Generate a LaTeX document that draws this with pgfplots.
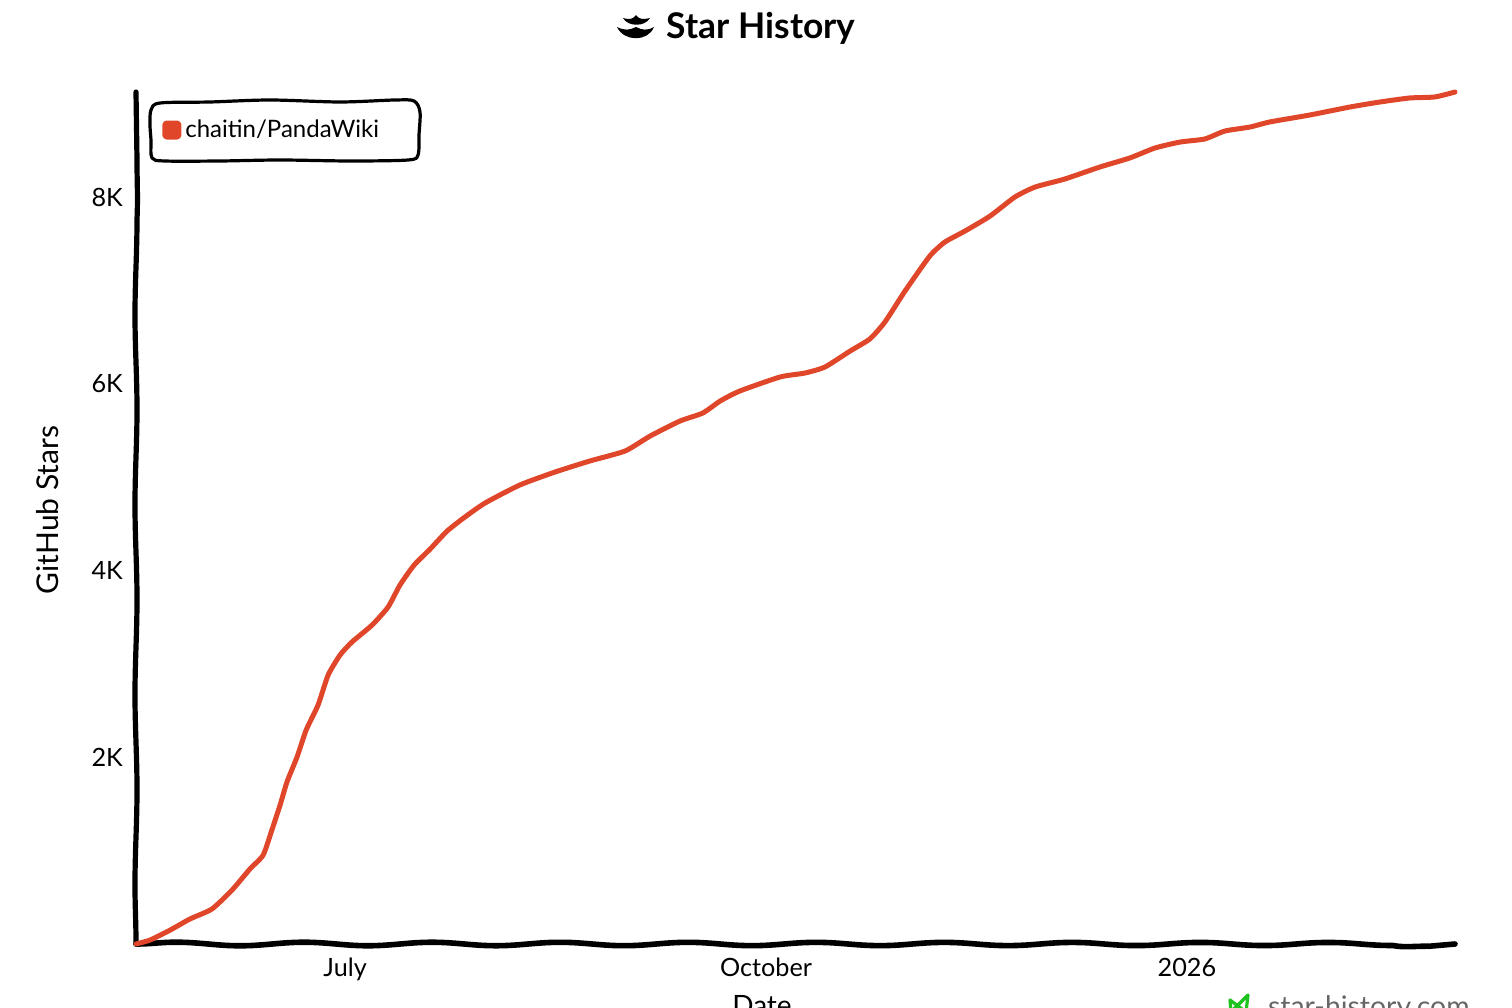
\documentclass[border=0pt]{standalone}
\usepackage{fontspec}
\setmainfont{Lato}
\usepackage{pgfplots}
\pgfplotsset{compat=1.18}
\usetikzlibrary{decorations.pathmorphing}
\definecolor{starred}{HTML}{E0462A}
\definecolor{stargreen}{HTML}{1FC31F}
\definecolor{stargray}{HTML}{666666}
\begin{document}
\begin{tikzpicture}
\path[use as bounding box, clip] (0,0) rectangle (756pt,504pt);
\begin{axis}[
  at={(68pt,32pt)}, anchor=south west,
  scale only axis, width=659.5pt, height=426pt,
  xmin=-45.7, xmax=242.6, ymin=0, ymax=9125,
  axis x line=bottom, axis y line=left,
  x axis line style={-, black, line width=2.8pt, line cap=round, decorate,
    decoration={snake, segment length=64pt, amplitude=0.9pt}},
  y axis line style={-, black, line width=2.6pt, line cap=round, decorate,
    decoration={snake, segment length=95pt, amplitude=0.5pt}},
  xtick={0,92,184}, xticklabels={July,October,2026},
  ytick={2000,4000,6000,8000}, yticklabels={2K,4K,6K,8K},
  major tick length=0pt,
  tick label style={font=\fontsize{12.6}{15}\selectfont, black},
  xticklabel style={yshift=-3.5pt},
  yticklabel style={xshift=-3pt},
  clip=false,
  legend cell align=left,
  legend style={at={(0.0197,0.9554)}, anchor=west,
    draw=none, fill=none,
    font=\fontsize{12}{14}\selectfont,
    inner xsep=0pt, inner ysep=0pt,
    /tikz/every even column/.style={column sep=4pt}},
  legend image code/.code={\fill[starred, rounded corners=1pt] (0pt,-3.5pt) rectangle (7pt,3.5pt);},
]
\addplot[starred, line width=2.5pt, smooth, tension=0.35, line join=round, line cap=round] coordinates {
(-45.7,0)(-42.6,43)(-38.2,150)(-33.9,268)(-29.1,375)(-24.7,578)(-20.8,803)(-17.9,953)
(-16.0,1221)(-14.2,1489)(-12.7,1735)(-10.5,2003)(-8.5,2292)(-5.9,2560)(-3.7,2881)(-1.1,3095)
(1.5,3234)(5.9,3416)(9.4,3609)(12.0,3845)(15.1,4059)(18.6,4230)(22.3,4423)(26.2,4573)
(30.6,4723)(38.2,4916)(45.9,5055)(53.5,5173)(61.2,5280)(66.7,5441)(73.2,5601)(78.2,5687)
(82,5816)(86.3,5923)(95.1,6073)(100.5,6115)(104.9,6180)(110.4,6351)(114.7,6480)(118,6662)
(122.4,6994)(127.8,7368)(131.1,7518)(135.5,7636)(141,7797)(146.4,8000)(150.8,8107)(157.3,8193)
(165,8322)(171.5,8418)(177,8525)(182.5,8589)(187.9,8622)(192.3,8707)(197.8,8750)(202.1,8804)
(210.9,8879)(219.6,8964)(226.2,9018)(232.7,9061)(238.2,9072)(242.6,9125)};
\addlegendentry{chaitin/PandaWiki}
\end{axis}
\begin{scope}[yshift=504pt, x=0.5pt, y=-0.5pt]
  % legend frame
  \draw[black, line width=1.6pt, line join=round] plot[smooth cycle, tension=0.5] coordinates {
    (150,125)(151,110)(160,103)(210,102)(270,100)(340,102)(395,100)(414,101)(420,112)
    (419,135)(418,155)(408,160)(350,161)(280,160)(220,161)(165,161)(152,158)(151,140)};
  % title icon
  \fill[black] (623,18) .. controls (630,20) and (633,19) .. (636,15) .. controls (639,19) and (642,20) .. (650,18)
     .. controls (645,27) and (628,27) .. cycle;
  \fill[black] (617,27) .. controls (625,31) and (630,30) .. (636,27) .. controls (642,30) and (647,31) .. (654,27)
     .. controls (648,42) and (624,42) .. cycle;
  \node[anchor=mid, font=\fontsize{17.7}{20}\selectfont\bfseries] at (761,33) {Star History};
  \node[rotate=90, font=\fontsize{15}{17}\selectfont] at (48,510) {GitHub Stars};
  \node[anchor=base, font=\fontsize{14}{16}\selectfont] at (762,1016) {Date};
  \node[anchor=base west, text=stargray, font=\fontsize{14.2}{16}\selectfont] at (1261,1017) {star-history.com};
  \draw[stargreen, line width=1.6pt, line join=round] (1230,1000) -- (1246,1012) -- (1248,995) -- (1231,1012) -- cycle;
\end{scope}
\end{tikzpicture}
\end{document}
